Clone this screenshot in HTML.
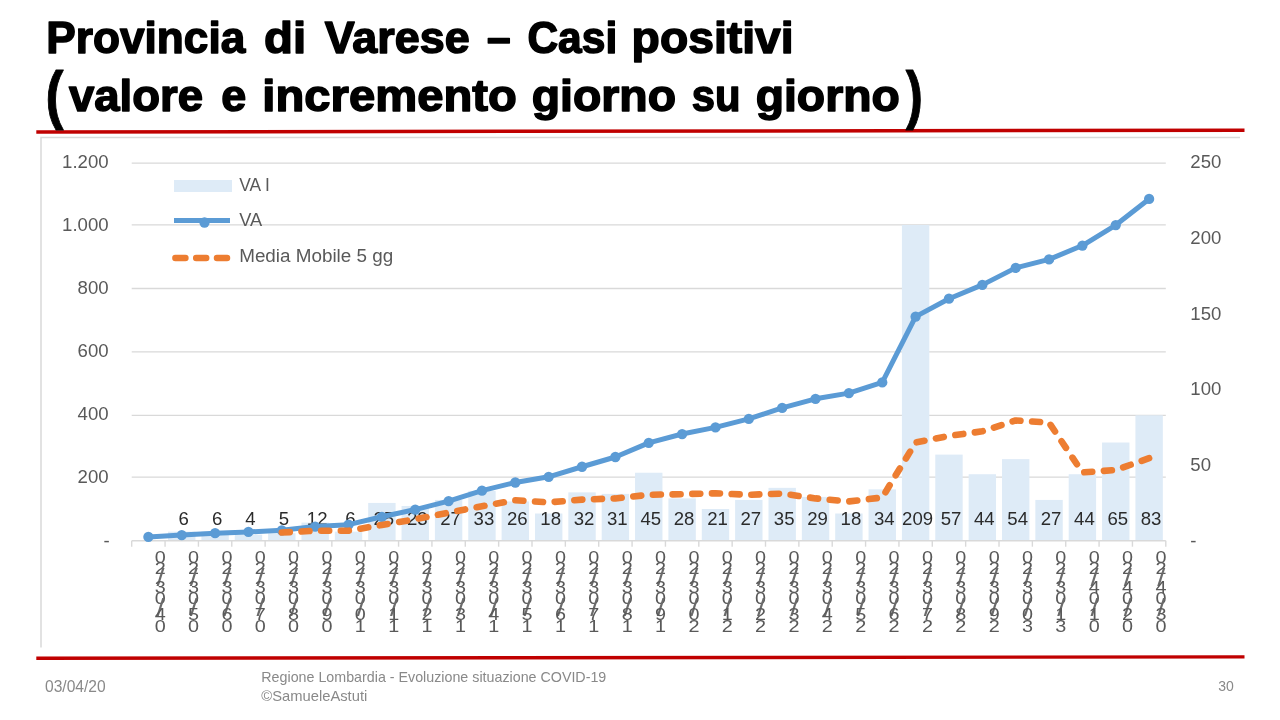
<!DOCTYPE html>
<html lang="it"><head><meta charset="utf-8"><title>Provincia di Varese – Casi positivi</title>
<style>html,body{margin:0;padding:0;background:#fff}body{width:1280px;height:720px;overflow:hidden;font-family:"Liberation Sans", Arial, sans-serif}svg{display:block}text{font-family:"Liberation Sans", Arial, sans-serif}</style></head><body>
<svg width="1280" height="720" viewBox="0 0 1280 720">
<rect width="1280" height="720" fill="#fff"/>
<path d="M41 647.5 V137.5 H1240" fill="none" stroke="#d9d9d9" stroke-width="1.5"/>
<line x1="131.7" y1="163.10" x2="1165.8" y2="163.10" stroke="#d9d9d9" stroke-width="1.4"/>
<line x1="131.7" y1="224.90" x2="1165.8" y2="224.90" stroke="#d9d9d9" stroke-width="1.4"/>
<line x1="131.7" y1="288.56" x2="1165.8" y2="288.56" stroke="#d9d9d9" stroke-width="1.4"/>
<line x1="131.7" y1="351.90" x2="1165.8" y2="351.90" stroke="#d9d9d9" stroke-width="1.4"/>
<line x1="131.7" y1="415.40" x2="1165.8" y2="415.40" stroke="#d9d9d9" stroke-width="1.4"/>
<line x1="131.7" y1="477.10" x2="1165.8" y2="477.10" stroke="#d9d9d9" stroke-width="1.4"/>
<rect x="168.04" y="531.64" width="27.40" height="9.06" fill="#deebf7"/>
<rect x="201.40" y="531.64" width="27.40" height="9.06" fill="#deebf7"/>
<rect x="234.75" y="534.66" width="27.40" height="6.04" fill="#deebf7"/>
<rect x="268.11" y="533.15" width="27.40" height="7.55" fill="#deebf7"/>
<rect x="301.47" y="522.58" width="27.40" height="18.12" fill="#deebf7"/>
<rect x="334.83" y="531.64" width="27.40" height="9.06" fill="#deebf7"/>
<rect x="368.19" y="502.94" width="27.40" height="37.76" fill="#deebf7"/>
<rect x="401.54" y="505.96" width="27.40" height="34.74" fill="#deebf7"/>
<rect x="434.90" y="499.92" width="27.40" height="40.78" fill="#deebf7"/>
<rect x="468.26" y="490.86" width="27.40" height="49.84" fill="#deebf7"/>
<rect x="501.62" y="501.43" width="27.40" height="39.27" fill="#deebf7"/>
<rect x="534.98" y="513.51" width="27.40" height="27.19" fill="#deebf7"/>
<rect x="568.33" y="492.37" width="27.40" height="48.33" fill="#deebf7"/>
<rect x="601.69" y="493.88" width="27.40" height="46.82" fill="#deebf7"/>
<rect x="635.05" y="472.73" width="27.40" height="67.97" fill="#deebf7"/>
<rect x="668.41" y="498.41" width="27.40" height="42.29" fill="#deebf7"/>
<rect x="701.77" y="508.98" width="27.40" height="31.72" fill="#deebf7"/>
<rect x="735.12" y="499.92" width="27.40" height="40.78" fill="#deebf7"/>
<rect x="768.48" y="487.84" width="27.40" height="52.86" fill="#deebf7"/>
<rect x="801.84" y="496.90" width="27.40" height="43.80" fill="#deebf7"/>
<rect x="835.20" y="513.51" width="27.40" height="27.19" fill="#deebf7"/>
<rect x="868.56" y="489.35" width="27.40" height="51.35" fill="#deebf7"/>
<rect x="901.91" y="225.03" width="27.40" height="315.67" fill="#deebf7"/>
<rect x="935.27" y="454.61" width="27.40" height="86.09" fill="#deebf7"/>
<rect x="968.63" y="474.24" width="27.40" height="66.46" fill="#deebf7"/>
<rect x="1001.99" y="459.14" width="27.40" height="81.56" fill="#deebf7"/>
<rect x="1035.35" y="499.92" width="27.40" height="40.78" fill="#deebf7"/>
<rect x="1068.70" y="474.24" width="27.40" height="66.46" fill="#deebf7"/>
<rect x="1102.06" y="442.52" width="27.40" height="98.18" fill="#deebf7"/>
<rect x="1135.42" y="415.34" width="27.40" height="125.36" fill="#deebf7"/>
<line x1="131.7" y1="540.70" x2="1165.8" y2="540.70" stroke="#d9d9d9" stroke-width="1.5"/>
<line x1="131.70" y1="540.70" x2="131.70" y2="546.70" stroke="#d9d9d9" stroke-width="1.4"/>
<line x1="165.06" y1="540.70" x2="165.06" y2="546.70" stroke="#d9d9d9" stroke-width="1.4"/>
<line x1="198.42" y1="540.70" x2="198.42" y2="546.70" stroke="#d9d9d9" stroke-width="1.4"/>
<line x1="231.77" y1="540.70" x2="231.77" y2="546.70" stroke="#d9d9d9" stroke-width="1.4"/>
<line x1="265.13" y1="540.70" x2="265.13" y2="546.70" stroke="#d9d9d9" stroke-width="1.4"/>
<line x1="298.49" y1="540.70" x2="298.49" y2="546.70" stroke="#d9d9d9" stroke-width="1.4"/>
<line x1="331.85" y1="540.70" x2="331.85" y2="546.70" stroke="#d9d9d9" stroke-width="1.4"/>
<line x1="365.21" y1="540.70" x2="365.21" y2="546.70" stroke="#d9d9d9" stroke-width="1.4"/>
<line x1="398.56" y1="540.70" x2="398.56" y2="546.70" stroke="#d9d9d9" stroke-width="1.4"/>
<line x1="431.92" y1="540.70" x2="431.92" y2="546.70" stroke="#d9d9d9" stroke-width="1.4"/>
<line x1="465.28" y1="540.70" x2="465.28" y2="546.70" stroke="#d9d9d9" stroke-width="1.4"/>
<line x1="498.64" y1="540.70" x2="498.64" y2="546.70" stroke="#d9d9d9" stroke-width="1.4"/>
<line x1="532.00" y1="540.70" x2="532.00" y2="546.70" stroke="#d9d9d9" stroke-width="1.4"/>
<line x1="565.35" y1="540.70" x2="565.35" y2="546.70" stroke="#d9d9d9" stroke-width="1.4"/>
<line x1="598.71" y1="540.70" x2="598.71" y2="546.70" stroke="#d9d9d9" stroke-width="1.4"/>
<line x1="632.07" y1="540.70" x2="632.07" y2="546.70" stroke="#d9d9d9" stroke-width="1.4"/>
<line x1="665.43" y1="540.70" x2="665.43" y2="546.70" stroke="#d9d9d9" stroke-width="1.4"/>
<line x1="698.79" y1="540.70" x2="698.79" y2="546.70" stroke="#d9d9d9" stroke-width="1.4"/>
<line x1="732.15" y1="540.70" x2="732.15" y2="546.70" stroke="#d9d9d9" stroke-width="1.4"/>
<line x1="765.50" y1="540.70" x2="765.50" y2="546.70" stroke="#d9d9d9" stroke-width="1.4"/>
<line x1="798.86" y1="540.70" x2="798.86" y2="546.70" stroke="#d9d9d9" stroke-width="1.4"/>
<line x1="832.22" y1="540.70" x2="832.22" y2="546.70" stroke="#d9d9d9" stroke-width="1.4"/>
<line x1="865.58" y1="540.70" x2="865.58" y2="546.70" stroke="#d9d9d9" stroke-width="1.4"/>
<line x1="898.94" y1="540.70" x2="898.94" y2="546.70" stroke="#d9d9d9" stroke-width="1.4"/>
<line x1="932.29" y1="540.70" x2="932.29" y2="546.70" stroke="#d9d9d9" stroke-width="1.4"/>
<line x1="965.65" y1="540.70" x2="965.65" y2="546.70" stroke="#d9d9d9" stroke-width="1.4"/>
<line x1="999.01" y1="540.70" x2="999.01" y2="546.70" stroke="#d9d9d9" stroke-width="1.4"/>
<line x1="1032.37" y1="540.70" x2="1032.37" y2="546.70" stroke="#d9d9d9" stroke-width="1.4"/>
<line x1="1065.73" y1="540.70" x2="1065.73" y2="546.70" stroke="#d9d9d9" stroke-width="1.4"/>
<line x1="1099.08" y1="540.70" x2="1099.08" y2="546.70" stroke="#d9d9d9" stroke-width="1.4"/>
<line x1="1132.44" y1="540.70" x2="1132.44" y2="546.70" stroke="#d9d9d9" stroke-width="1.4"/>
<line x1="1165.80" y1="540.70" x2="1165.80" y2="546.70" stroke="#d9d9d9" stroke-width="1.4"/>
<text x="108.6" y="167.85" font-size="18.6" fill="#595959" text-anchor="end">1.200</text>
<text x="108.6" y="230.93" font-size="18.6" fill="#595959" text-anchor="end">1.000</text>
<text x="108.6" y="294.01" font-size="18.6" fill="#595959" text-anchor="end">800</text>
<text x="108.6" y="357.09" font-size="18.6" fill="#595959" text-anchor="end">600</text>
<text x="108.6" y="420.17" font-size="18.6" fill="#595959" text-anchor="end">400</text>
<text x="108.6" y="483.25" font-size="18.6" fill="#595959" text-anchor="end">200</text>
<text x="109.6" y="547.13" font-size="18.6" fill="#595959" text-anchor="end">-</text>
<text x="1190.3" y="167.85" font-size="18.6" fill="#595959">250</text>
<text x="1190.3" y="243.71" font-size="18.6" fill="#595959">200</text>
<text x="1190.3" y="319.57" font-size="18.6" fill="#595959">150</text>
<text x="1190.3" y="395.43" font-size="18.6" fill="#595959">100</text>
<text x="1190.3" y="471.29" font-size="18.6" fill="#595959">50</text>
<text x="1190.2" y="547.10" font-size="18.6" fill="#595959">-</text>
<text x="183.74" y="525" font-size="18.6" fill="#2b2b2b" text-anchor="middle">6</text>
<text x="217.10" y="525" font-size="18.6" fill="#2b2b2b" text-anchor="middle">6</text>
<text x="250.45" y="525" font-size="18.6" fill="#2b2b2b" text-anchor="middle">4</text>
<text x="283.81" y="525" font-size="18.6" fill="#2b2b2b" text-anchor="middle">5</text>
<text x="317.17" y="525" font-size="18.6" fill="#2b2b2b" text-anchor="middle">12</text>
<text x="350.53" y="525" font-size="18.6" fill="#2b2b2b" text-anchor="middle">6</text>
<text x="383.89" y="525" font-size="18.6" fill="#2b2b2b" text-anchor="middle">25</text>
<text x="417.24" y="525" font-size="18.6" fill="#2b2b2b" text-anchor="middle">23</text>
<text x="450.60" y="525" font-size="18.6" fill="#2b2b2b" text-anchor="middle">27</text>
<text x="483.96" y="525" font-size="18.6" fill="#2b2b2b" text-anchor="middle">33</text>
<text x="517.32" y="525" font-size="18.6" fill="#2b2b2b" text-anchor="middle">26</text>
<text x="550.68" y="525" font-size="18.6" fill="#2b2b2b" text-anchor="middle">18</text>
<text x="584.03" y="525" font-size="18.6" fill="#2b2b2b" text-anchor="middle">32</text>
<text x="617.39" y="525" font-size="18.6" fill="#2b2b2b" text-anchor="middle">31</text>
<text x="650.75" y="525" font-size="18.6" fill="#2b2b2b" text-anchor="middle">45</text>
<text x="684.11" y="525" font-size="18.6" fill="#2b2b2b" text-anchor="middle">28</text>
<text x="717.47" y="525" font-size="18.6" fill="#2b2b2b" text-anchor="middle">21</text>
<text x="750.82" y="525" font-size="18.6" fill="#2b2b2b" text-anchor="middle">27</text>
<text x="784.18" y="525" font-size="18.6" fill="#2b2b2b" text-anchor="middle">35</text>
<text x="817.54" y="525" font-size="18.6" fill="#2b2b2b" text-anchor="middle">29</text>
<text x="850.90" y="525" font-size="18.6" fill="#2b2b2b" text-anchor="middle">18</text>
<text x="884.26" y="525" font-size="18.6" fill="#2b2b2b" text-anchor="middle">34</text>
<text x="917.61" y="525" font-size="18.6" fill="#2b2b2b" text-anchor="middle">209</text>
<text x="950.97" y="525" font-size="18.6" fill="#2b2b2b" text-anchor="middle">57</text>
<text x="984.33" y="525" font-size="18.6" fill="#2b2b2b" text-anchor="middle">44</text>
<text x="1017.69" y="525" font-size="18.6" fill="#2b2b2b" text-anchor="middle">54</text>
<text x="1051.05" y="525" font-size="18.6" fill="#2b2b2b" text-anchor="middle">27</text>
<text x="1084.40" y="525" font-size="18.6" fill="#2b2b2b" text-anchor="middle">44</text>
<text x="1117.76" y="525" font-size="18.6" fill="#2b2b2b" text-anchor="middle">65</text>
<text x="1151.12" y="525" font-size="18.6" fill="#2b2b2b" text-anchor="middle">83</text>
<polyline points="148.38,536.92 181.74,535.04 215.10,533.15 248.45,531.89 281.81,530.32 315.17,526.54 348.53,524.65 381.89,516.79 415.24,509.55 448.60,501.05 481.96,490.67 515.32,482.49 548.68,476.82 582.03,466.75 615.39,457.00 648.75,442.84 682.11,434.03 715.47,427.42 748.82,418.92 782.18,407.91 815.54,398.79 848.90,393.12 882.26,382.42 915.61,316.66 948.97,298.72 982.33,284.88 1015.69,267.88 1049.05,259.39 1082.40,245.54 1115.76,225.09 1149.12,198.97" fill="none" stroke="#5b9bd5" stroke-width="5" stroke-linejoin="round" stroke-linecap="round"/>
<circle cx="148.38" cy="536.92" r="5.15" fill="#5b9bd5"/>
<circle cx="181.74" cy="535.04" r="5.15" fill="#5b9bd5"/>
<circle cx="215.10" cy="533.15" r="5.15" fill="#5b9bd5"/>
<circle cx="248.45" cy="531.89" r="5.15" fill="#5b9bd5"/>
<circle cx="281.81" cy="530.32" r="5.15" fill="#5b9bd5"/>
<circle cx="315.17" cy="526.54" r="5.15" fill="#5b9bd5"/>
<circle cx="348.53" cy="524.65" r="5.15" fill="#5b9bd5"/>
<circle cx="381.89" cy="516.79" r="5.15" fill="#5b9bd5"/>
<circle cx="415.24" cy="509.55" r="5.15" fill="#5b9bd5"/>
<circle cx="448.60" cy="501.05" r="5.15" fill="#5b9bd5"/>
<circle cx="481.96" cy="490.67" r="5.15" fill="#5b9bd5"/>
<circle cx="515.32" cy="482.49" r="5.15" fill="#5b9bd5"/>
<circle cx="548.68" cy="476.82" r="5.15" fill="#5b9bd5"/>
<circle cx="582.03" cy="466.75" r="5.15" fill="#5b9bd5"/>
<circle cx="615.39" cy="457.00" r="5.15" fill="#5b9bd5"/>
<circle cx="648.75" cy="442.84" r="5.15" fill="#5b9bd5"/>
<circle cx="682.11" cy="434.03" r="5.15" fill="#5b9bd5"/>
<circle cx="715.47" cy="427.42" r="5.15" fill="#5b9bd5"/>
<circle cx="748.82" cy="418.92" r="5.15" fill="#5b9bd5"/>
<circle cx="782.18" cy="407.91" r="5.15" fill="#5b9bd5"/>
<circle cx="815.54" cy="398.79" r="5.15" fill="#5b9bd5"/>
<circle cx="848.90" cy="393.12" r="5.15" fill="#5b9bd5"/>
<circle cx="882.26" cy="382.42" r="5.15" fill="#5b9bd5"/>
<circle cx="915.61" cy="316.66" r="5.15" fill="#5b9bd5"/>
<circle cx="948.97" cy="298.72" r="5.15" fill="#5b9bd5"/>
<circle cx="982.33" cy="284.88" r="5.15" fill="#5b9bd5"/>
<circle cx="1015.69" cy="267.88" r="5.15" fill="#5b9bd5"/>
<circle cx="1049.05" cy="259.39" r="5.15" fill="#5b9bd5"/>
<circle cx="1082.40" cy="245.54" r="5.15" fill="#5b9bd5"/>
<circle cx="1115.76" cy="225.09" r="5.15" fill="#5b9bd5"/>
<circle cx="1149.12" cy="198.97" r="5.15" fill="#5b9bd5"/>
<polyline points="281.81,532.54 315.17,530.73 348.53,530.73 381.89,524.99 415.24,519.25 448.60,512.61 481.96,506.26 515.32,500.22 548.68,502.34 582.03,499.62 615.39,498.41 648.75,494.78 682.11,494.18 715.47,493.27 748.82,494.78 782.18,493.58 815.54,498.41 848.90,501.43 882.26,497.50 915.61,442.52 948.97,435.88 982.33,431.35 1015.69,420.47 1049.05,422.59 1082.40,472.43 1115.76,470.01 1149.12,458.23" fill="none" stroke="#ed7d31" stroke-width="6.6" stroke-dasharray="8 11.7" stroke-linejoin="round" stroke-linecap="round"/>
<text transform="translate(160.18 0) scale(1.2 1)" font-size="16.5" fill="#595959" text-anchor="middle"><tspan x="0" y="562.8">0</tspan><tspan x="0" y="574.0">2</tspan><tspan x="0.25" y="586.5" font-size="24" fill="#6a6a6a">/</tspan><tspan x="0" y="593.5">3</tspan><tspan x="0" y="604.2">0</tspan><tspan x="0.25" y="615.8" font-size="24" fill="#6a6a6a">/</tspan><tspan x="0" y="620.4">4</tspan><tspan x="0" y="632.2">0</tspan></text>
<text transform="translate(193.54 0) scale(1.2 1)" font-size="16.5" fill="#595959" text-anchor="middle"><tspan x="0" y="562.8">0</tspan><tspan x="0" y="574.0">2</tspan><tspan x="0.25" y="586.5" font-size="24" fill="#6a6a6a">/</tspan><tspan x="0" y="593.5">3</tspan><tspan x="0" y="604.2">0</tspan><tspan x="0.25" y="615.8" font-size="24" fill="#6a6a6a">/</tspan><tspan x="0" y="620.4">5</tspan><tspan x="0" y="632.2">0</tspan></text>
<text transform="translate(226.90 0) scale(1.2 1)" font-size="16.5" fill="#595959" text-anchor="middle"><tspan x="0" y="562.8">0</tspan><tspan x="0" y="574.0">2</tspan><tspan x="0.25" y="586.5" font-size="24" fill="#6a6a6a">/</tspan><tspan x="0" y="593.5">3</tspan><tspan x="0" y="604.2">0</tspan><tspan x="0.25" y="615.8" font-size="24" fill="#6a6a6a">/</tspan><tspan x="0" y="620.4">6</tspan><tspan x="0" y="632.2">0</tspan></text>
<text transform="translate(260.25 0) scale(1.2 1)" font-size="16.5" fill="#595959" text-anchor="middle"><tspan x="0" y="562.8">0</tspan><tspan x="0" y="574.0">2</tspan><tspan x="0.25" y="586.5" font-size="24" fill="#6a6a6a">/</tspan><tspan x="0" y="593.5">3</tspan><tspan x="0" y="604.2">0</tspan><tspan x="0.25" y="615.8" font-size="24" fill="#6a6a6a">/</tspan><tspan x="0" y="620.4">7</tspan><tspan x="0" y="632.2">0</tspan></text>
<text transform="translate(293.61 0) scale(1.2 1)" font-size="16.5" fill="#595959" text-anchor="middle"><tspan x="0" y="562.8">0</tspan><tspan x="0" y="574.0">2</tspan><tspan x="0.25" y="586.5" font-size="24" fill="#6a6a6a">/</tspan><tspan x="0" y="593.5">3</tspan><tspan x="0" y="604.2">0</tspan><tspan x="0.25" y="615.8" font-size="24" fill="#6a6a6a">/</tspan><tspan x="0" y="620.4">8</tspan><tspan x="0" y="632.2">0</tspan></text>
<text transform="translate(326.97 0) scale(1.2 1)" font-size="16.5" fill="#595959" text-anchor="middle"><tspan x="0" y="562.8">0</tspan><tspan x="0" y="574.0">2</tspan><tspan x="0.25" y="586.5" font-size="24" fill="#6a6a6a">/</tspan><tspan x="0" y="593.5">3</tspan><tspan x="0" y="604.2">0</tspan><tspan x="0.25" y="615.8" font-size="24" fill="#6a6a6a">/</tspan><tspan x="0" y="620.4">9</tspan><tspan x="0" y="632.2">0</tspan></text>
<text transform="translate(360.33 0) scale(1.2 1)" font-size="16.5" fill="#595959" text-anchor="middle"><tspan x="0" y="562.8">0</tspan><tspan x="0" y="574.0">2</tspan><tspan x="0.25" y="586.5" font-size="24" fill="#6a6a6a">/</tspan><tspan x="0" y="593.5">3</tspan><tspan x="0" y="604.2">0</tspan><tspan x="0.25" y="615.8" font-size="24" fill="#6a6a6a">/</tspan><tspan x="0" y="620.4">0</tspan><tspan x="0" y="632.2">1</tspan></text>
<text transform="translate(393.69 0) scale(1.2 1)" font-size="16.5" fill="#595959" text-anchor="middle"><tspan x="0" y="562.8">0</tspan><tspan x="0" y="574.0">2</tspan><tspan x="0.25" y="586.5" font-size="24" fill="#6a6a6a">/</tspan><tspan x="0" y="593.5">3</tspan><tspan x="0" y="604.2">0</tspan><tspan x="0.25" y="615.8" font-size="24" fill="#6a6a6a">/</tspan><tspan x="0" y="620.4">1</tspan><tspan x="0" y="632.2">1</tspan></text>
<text transform="translate(427.04 0) scale(1.2 1)" font-size="16.5" fill="#595959" text-anchor="middle"><tspan x="0" y="562.8">0</tspan><tspan x="0" y="574.0">2</tspan><tspan x="0.25" y="586.5" font-size="24" fill="#6a6a6a">/</tspan><tspan x="0" y="593.5">3</tspan><tspan x="0" y="604.2">0</tspan><tspan x="0.25" y="615.8" font-size="24" fill="#6a6a6a">/</tspan><tspan x="0" y="620.4">2</tspan><tspan x="0" y="632.2">1</tspan></text>
<text transform="translate(460.40 0) scale(1.2 1)" font-size="16.5" fill="#595959" text-anchor="middle"><tspan x="0" y="562.8">0</tspan><tspan x="0" y="574.0">2</tspan><tspan x="0.25" y="586.5" font-size="24" fill="#6a6a6a">/</tspan><tspan x="0" y="593.5">3</tspan><tspan x="0" y="604.2">0</tspan><tspan x="0.25" y="615.8" font-size="24" fill="#6a6a6a">/</tspan><tspan x="0" y="620.4">3</tspan><tspan x="0" y="632.2">1</tspan></text>
<text transform="translate(493.76 0) scale(1.2 1)" font-size="16.5" fill="#595959" text-anchor="middle"><tspan x="0" y="562.8">0</tspan><tspan x="0" y="574.0">2</tspan><tspan x="0.25" y="586.5" font-size="24" fill="#6a6a6a">/</tspan><tspan x="0" y="593.5">3</tspan><tspan x="0" y="604.2">0</tspan><tspan x="0.25" y="615.8" font-size="24" fill="#6a6a6a">/</tspan><tspan x="0" y="620.4">4</tspan><tspan x="0" y="632.2">1</tspan></text>
<text transform="translate(527.12 0) scale(1.2 1)" font-size="16.5" fill="#595959" text-anchor="middle"><tspan x="0" y="562.8">0</tspan><tspan x="0" y="574.0">2</tspan><tspan x="0.25" y="586.5" font-size="24" fill="#6a6a6a">/</tspan><tspan x="0" y="593.5">3</tspan><tspan x="0" y="604.2">0</tspan><tspan x="0.25" y="615.8" font-size="24" fill="#6a6a6a">/</tspan><tspan x="0" y="620.4">5</tspan><tspan x="0" y="632.2">1</tspan></text>
<text transform="translate(560.48 0) scale(1.2 1)" font-size="16.5" fill="#595959" text-anchor="middle"><tspan x="0" y="562.8">0</tspan><tspan x="0" y="574.0">2</tspan><tspan x="0.25" y="586.5" font-size="24" fill="#6a6a6a">/</tspan><tspan x="0" y="593.5">3</tspan><tspan x="0" y="604.2">0</tspan><tspan x="0.25" y="615.8" font-size="24" fill="#6a6a6a">/</tspan><tspan x="0" y="620.4">6</tspan><tspan x="0" y="632.2">1</tspan></text>
<text transform="translate(593.83 0) scale(1.2 1)" font-size="16.5" fill="#595959" text-anchor="middle"><tspan x="0" y="562.8">0</tspan><tspan x="0" y="574.0">2</tspan><tspan x="0.25" y="586.5" font-size="24" fill="#6a6a6a">/</tspan><tspan x="0" y="593.5">3</tspan><tspan x="0" y="604.2">0</tspan><tspan x="0.25" y="615.8" font-size="24" fill="#6a6a6a">/</tspan><tspan x="0" y="620.4">7</tspan><tspan x="0" y="632.2">1</tspan></text>
<text transform="translate(627.19 0) scale(1.2 1)" font-size="16.5" fill="#595959" text-anchor="middle"><tspan x="0" y="562.8">0</tspan><tspan x="0" y="574.0">2</tspan><tspan x="0.25" y="586.5" font-size="24" fill="#6a6a6a">/</tspan><tspan x="0" y="593.5">3</tspan><tspan x="0" y="604.2">0</tspan><tspan x="0.25" y="615.8" font-size="24" fill="#6a6a6a">/</tspan><tspan x="0" y="620.4">8</tspan><tspan x="0" y="632.2">1</tspan></text>
<text transform="translate(660.55 0) scale(1.2 1)" font-size="16.5" fill="#595959" text-anchor="middle"><tspan x="0" y="562.8">0</tspan><tspan x="0" y="574.0">2</tspan><tspan x="0.25" y="586.5" font-size="24" fill="#6a6a6a">/</tspan><tspan x="0" y="593.5">3</tspan><tspan x="0" y="604.2">0</tspan><tspan x="0.25" y="615.8" font-size="24" fill="#6a6a6a">/</tspan><tspan x="0" y="620.4">9</tspan><tspan x="0" y="632.2">1</tspan></text>
<text transform="translate(693.91 0) scale(1.2 1)" font-size="16.5" fill="#595959" text-anchor="middle"><tspan x="0" y="562.8">0</tspan><tspan x="0" y="574.0">2</tspan><tspan x="0.25" y="586.5" font-size="24" fill="#6a6a6a">/</tspan><tspan x="0" y="593.5">3</tspan><tspan x="0" y="604.2">0</tspan><tspan x="0.25" y="615.8" font-size="24" fill="#6a6a6a">/</tspan><tspan x="0" y="620.4">0</tspan><tspan x="0" y="632.2">2</tspan></text>
<text transform="translate(727.27 0) scale(1.2 1)" font-size="16.5" fill="#595959" text-anchor="middle"><tspan x="0" y="562.8">0</tspan><tspan x="0" y="574.0">2</tspan><tspan x="0.25" y="586.5" font-size="24" fill="#6a6a6a">/</tspan><tspan x="0" y="593.5">3</tspan><tspan x="0" y="604.2">0</tspan><tspan x="0.25" y="615.8" font-size="24" fill="#6a6a6a">/</tspan><tspan x="0" y="620.4">1</tspan><tspan x="0" y="632.2">2</tspan></text>
<text transform="translate(760.62 0) scale(1.2 1)" font-size="16.5" fill="#595959" text-anchor="middle"><tspan x="0" y="562.8">0</tspan><tspan x="0" y="574.0">2</tspan><tspan x="0.25" y="586.5" font-size="24" fill="#6a6a6a">/</tspan><tspan x="0" y="593.5">3</tspan><tspan x="0" y="604.2">0</tspan><tspan x="0.25" y="615.8" font-size="24" fill="#6a6a6a">/</tspan><tspan x="0" y="620.4">2</tspan><tspan x="0" y="632.2">2</tspan></text>
<text transform="translate(793.98 0) scale(1.2 1)" font-size="16.5" fill="#595959" text-anchor="middle"><tspan x="0" y="562.8">0</tspan><tspan x="0" y="574.0">2</tspan><tspan x="0.25" y="586.5" font-size="24" fill="#6a6a6a">/</tspan><tspan x="0" y="593.5">3</tspan><tspan x="0" y="604.2">0</tspan><tspan x="0.25" y="615.8" font-size="24" fill="#6a6a6a">/</tspan><tspan x="0" y="620.4">3</tspan><tspan x="0" y="632.2">2</tspan></text>
<text transform="translate(827.34 0) scale(1.2 1)" font-size="16.5" fill="#595959" text-anchor="middle"><tspan x="0" y="562.8">0</tspan><tspan x="0" y="574.0">2</tspan><tspan x="0.25" y="586.5" font-size="24" fill="#6a6a6a">/</tspan><tspan x="0" y="593.5">3</tspan><tspan x="0" y="604.2">0</tspan><tspan x="0.25" y="615.8" font-size="24" fill="#6a6a6a">/</tspan><tspan x="0" y="620.4">4</tspan><tspan x="0" y="632.2">2</tspan></text>
<text transform="translate(860.70 0) scale(1.2 1)" font-size="16.5" fill="#595959" text-anchor="middle"><tspan x="0" y="562.8">0</tspan><tspan x="0" y="574.0">2</tspan><tspan x="0.25" y="586.5" font-size="24" fill="#6a6a6a">/</tspan><tspan x="0" y="593.5">3</tspan><tspan x="0" y="604.2">0</tspan><tspan x="0.25" y="615.8" font-size="24" fill="#6a6a6a">/</tspan><tspan x="0" y="620.4">5</tspan><tspan x="0" y="632.2">2</tspan></text>
<text transform="translate(894.06 0) scale(1.2 1)" font-size="16.5" fill="#595959" text-anchor="middle"><tspan x="0" y="562.8">0</tspan><tspan x="0" y="574.0">2</tspan><tspan x="0.25" y="586.5" font-size="24" fill="#6a6a6a">/</tspan><tspan x="0" y="593.5">3</tspan><tspan x="0" y="604.2">0</tspan><tspan x="0.25" y="615.8" font-size="24" fill="#6a6a6a">/</tspan><tspan x="0" y="620.4">6</tspan><tspan x="0" y="632.2">2</tspan></text>
<text transform="translate(927.41 0) scale(1.2 1)" font-size="16.5" fill="#595959" text-anchor="middle"><tspan x="0" y="562.8">0</tspan><tspan x="0" y="574.0">2</tspan><tspan x="0.25" y="586.5" font-size="24" fill="#6a6a6a">/</tspan><tspan x="0" y="593.5">3</tspan><tspan x="0" y="604.2">0</tspan><tspan x="0.25" y="615.8" font-size="24" fill="#6a6a6a">/</tspan><tspan x="0" y="620.4">7</tspan><tspan x="0" y="632.2">2</tspan></text>
<text transform="translate(960.77 0) scale(1.2 1)" font-size="16.5" fill="#595959" text-anchor="middle"><tspan x="0" y="562.8">0</tspan><tspan x="0" y="574.0">2</tspan><tspan x="0.25" y="586.5" font-size="24" fill="#6a6a6a">/</tspan><tspan x="0" y="593.5">3</tspan><tspan x="0" y="604.2">0</tspan><tspan x="0.25" y="615.8" font-size="24" fill="#6a6a6a">/</tspan><tspan x="0" y="620.4">8</tspan><tspan x="0" y="632.2">2</tspan></text>
<text transform="translate(994.13 0) scale(1.2 1)" font-size="16.5" fill="#595959" text-anchor="middle"><tspan x="0" y="562.8">0</tspan><tspan x="0" y="574.0">2</tspan><tspan x="0.25" y="586.5" font-size="24" fill="#6a6a6a">/</tspan><tspan x="0" y="593.5">3</tspan><tspan x="0" y="604.2">0</tspan><tspan x="0.25" y="615.8" font-size="24" fill="#6a6a6a">/</tspan><tspan x="0" y="620.4">9</tspan><tspan x="0" y="632.2">2</tspan></text>
<text transform="translate(1027.49 0) scale(1.2 1)" font-size="16.5" fill="#595959" text-anchor="middle"><tspan x="0" y="562.8">0</tspan><tspan x="0" y="574.0">2</tspan><tspan x="0.25" y="586.5" font-size="24" fill="#6a6a6a">/</tspan><tspan x="0" y="593.5">3</tspan><tspan x="0" y="604.2">0</tspan><tspan x="0.25" y="615.8" font-size="24" fill="#6a6a6a">/</tspan><tspan x="0" y="620.4">0</tspan><tspan x="0" y="632.2">3</tspan></text>
<text transform="translate(1060.85 0) scale(1.2 1)" font-size="16.5" fill="#595959" text-anchor="middle"><tspan x="0" y="562.8">0</tspan><tspan x="0" y="574.0">2</tspan><tspan x="0.25" y="586.5" font-size="24" fill="#6a6a6a">/</tspan><tspan x="0" y="593.5">3</tspan><tspan x="0" y="604.2">0</tspan><tspan x="0.25" y="615.8" font-size="24" fill="#6a6a6a">/</tspan><tspan x="0" y="620.4">1</tspan><tspan x="0" y="632.2">3</tspan></text>
<text transform="translate(1094.20 0) scale(1.2 1)" font-size="16.5" fill="#595959" text-anchor="middle"><tspan x="0" y="562.8">0</tspan><tspan x="0" y="574.0">2</tspan><tspan x="0.25" y="586.5" font-size="24" fill="#6a6a6a">/</tspan><tspan x="0" y="593.5">4</tspan><tspan x="0" y="604.2">0</tspan><tspan x="0.25" y="615.8" font-size="24" fill="#6a6a6a">/</tspan><tspan x="0" y="620.4">1</tspan><tspan x="0" y="632.2">0</tspan></text>
<text transform="translate(1127.56 0) scale(1.2 1)" font-size="16.5" fill="#595959" text-anchor="middle"><tspan x="0" y="562.8">0</tspan><tspan x="0" y="574.0">2</tspan><tspan x="0.25" y="586.5" font-size="24" fill="#6a6a6a">/</tspan><tspan x="0" y="593.5">4</tspan><tspan x="0" y="604.2">0</tspan><tspan x="0.25" y="615.8" font-size="24" fill="#6a6a6a">/</tspan><tspan x="0" y="620.4">2</tspan><tspan x="0" y="632.2">0</tspan></text>
<text transform="translate(1160.92 0) scale(1.2 1)" font-size="16.5" fill="#595959" text-anchor="middle"><tspan x="0" y="562.8">0</tspan><tspan x="0" y="574.0">2</tspan><tspan x="0.25" y="586.5" font-size="24" fill="#6a6a6a">/</tspan><tspan x="0" y="593.5">4</tspan><tspan x="0" y="604.2">0</tspan><tspan x="0.25" y="615.8" font-size="24" fill="#6a6a6a">/</tspan><tspan x="0" y="620.4">3</tspan><tspan x="0" y="632.2">0</tspan></text>
<rect x="174" y="180" width="58" height="12" fill="#deebf7"/>
<text x="239.2" y="191.3" font-size="17.5" fill="#595959" textLength="30.6" lengthAdjust="spacingAndGlyphs">VA I</text>
<line x1="174" y1="220.5" x2="230" y2="220.5" stroke="#5b9bd5" stroke-width="5"/>
<circle cx="204.5" cy="222.5" r="5.15" fill="#5b9bd5"/>
<text x="239.2" y="226.3" font-size="17.5" fill="#595959" textLength="23" lengthAdjust="spacingAndGlyphs">VA</text>
<line x1="175.4" y1="258.1" x2="231" y2="258.1" stroke="#ed7d31" stroke-width="6.5" stroke-dasharray="10 10.8" stroke-linecap="round"/>
<text x="239.2" y="262" font-size="17.5" fill="#595959" textLength="154" lengthAdjust="spacingAndGlyphs">Media Mobile 5 gg</text>
<line x1="36.3" y1="132" x2="1244.5" y2="130.2" stroke="#c00000" stroke-width="3.5"/>
<line x1="36.3" y1="658.3" x2="1244.5" y2="656.9" stroke="#c00000" stroke-width="3.4"/>
<text font-weight="700" fill="#000" stroke="#000" stroke-linejoin="round"><tspan x="46.37" y="52.5" font-size="44.5" stroke-width="1.5" textLength="198.92" lengthAdjust="spacingAndGlyphs">Provincia</tspan> <tspan x="264.14" y="52.5" font-size="44.5" stroke-width="1.5" textLength="42.06" lengthAdjust="spacingAndGlyphs">di</tspan> <tspan x="324.85" y="52.5" font-size="44.5" stroke-width="1.5" textLength="144.75" lengthAdjust="spacingAndGlyphs">Varese</tspan> <tspan x="486.91" y="52.5" font-size="44.5" stroke-width="1.5" textLength="23.63" lengthAdjust="spacingAndGlyphs">–</tspan> <tspan x="527.43" y="52.5" font-size="44.5" stroke-width="1.5" textLength="89.77" lengthAdjust="spacingAndGlyphs">Casi</tspan> <tspan x="631.63" y="52.5" font-size="44.5" stroke-width="1.5" textLength="162.02" lengthAdjust="spacingAndGlyphs">positivi</tspan></text>
<text font-weight="700" fill="#000" stroke="#000" stroke-linejoin="round"><tspan x="45.54" y="117.1" font-size="65" stroke-width="1.0" textLength="18.00" lengthAdjust="spacingAndGlyphs">(</tspan><tspan x="68.95" y="111.3" font-size="44.5" stroke-width="1.5" textLength="134.25" lengthAdjust="spacingAndGlyphs">valore</tspan> <tspan x="221.23" y="111.3" font-size="44.5" stroke-width="1.5" textLength="24.98" lengthAdjust="spacingAndGlyphs">e</tspan> <tspan x="262.36" y="111.3" font-size="44.5" stroke-width="1.5" textLength="254.45" lengthAdjust="spacingAndGlyphs">incremento</tspan> <tspan x="531.67" y="111.3" font-size="44.5" stroke-width="1.5" textLength="144.36" lengthAdjust="spacingAndGlyphs">giorno</tspan> <tspan x="691.85" y="111.3" font-size="44.5" stroke-width="1.5" textLength="48.75" lengthAdjust="spacingAndGlyphs">su</tspan> <tspan x="755.68" y="111.3" font-size="44.5" stroke-width="1.5" textLength="144.16" lengthAdjust="spacingAndGlyphs">giorno</tspan><tspan x="905.72" y="117.1" font-size="65" stroke-width="1.0" textLength="17.15" lengthAdjust="spacingAndGlyphs">)</tspan></text>
<text x="45" y="691.8" font-size="15.6" fill="#898989">03/04/20</text>
<text x="261.3" y="682" font-size="14.6" fill="#898989" textLength="345" lengthAdjust="spacingAndGlyphs">Regione Lombardia - Evoluzione situazione COVID-19</text>
<text x="261.3" y="701.2" font-size="14.6" fill="#898989" textLength="106" lengthAdjust="spacingAndGlyphs">©SamueleAstuti</text>
<text x="1218.2" y="691.3" font-size="14" fill="#898989">30</text>
</svg></body></html>
